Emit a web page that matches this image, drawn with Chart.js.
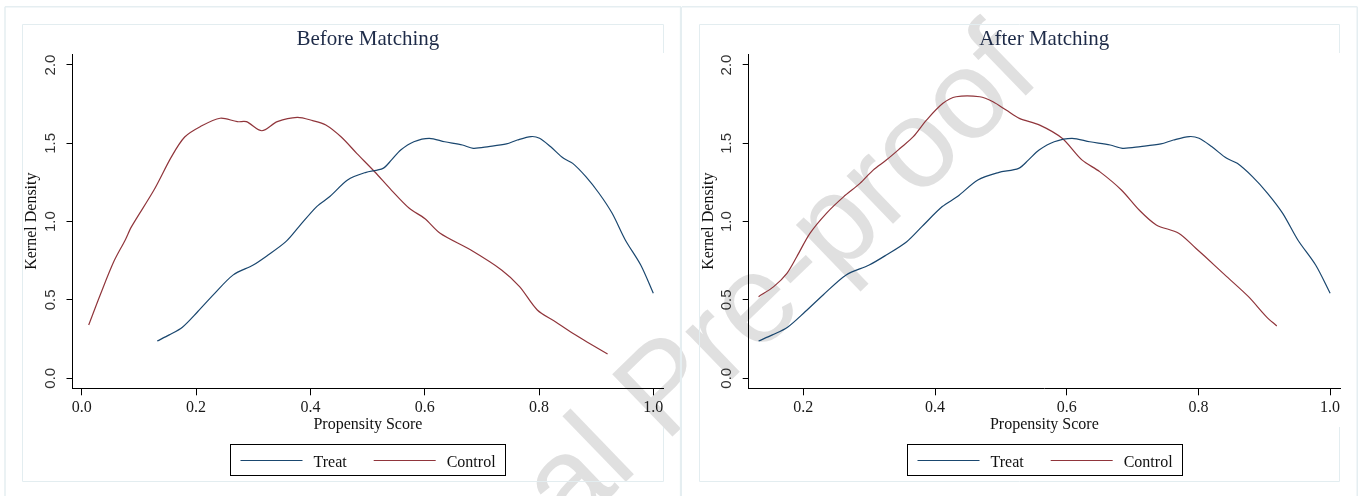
<!DOCTYPE html>
<html>
<head>
<meta charset="utf-8">
<title>Kernel Density - Before and After Matching</title>
<script src="https://cdn.jsdelivr.net/npm/chart.js@4.4.1/dist/chart.umd.min.js"></script>
<style>
	body { margin: 0; background: #fff; }
	#wrap { position: relative; width: 1365px; height: 496px; overflow: hidden; }
	#wrap canvas { position: absolute; top: 0; z-index: 1; }
	#before { left: 0; }
	#after { left: 682px; }
	.watermark {
		position: absolute; left: 269px; top: 679px; z-index: 0;
		font-family: "Liberation Sans", Arial, sans-serif; font-size: 126px; line-height: 1;
		color: #e0e0e0; white-space: nowrap;
		transform-origin: 0 0; transform: rotate(-44deg);
	}
</style>
</head>
<body>
<div id="wrap">
	<div class="watermark">Journal Pre-proof</div>
	<canvas id="before" width="682" height="496"></canvas>
	<canvas id="after" width="683" height="496"></canvas>
</div>
<script>
// Treated units are the same in both panels
const treatScore = [0.132, 0.153, 0.176, 0.203, 0.23, 0.265, 0.3, 0.326, 0.357, 0.38, 0.411, 0.434, 0.465, 0.496, 0.527, 0.542, 0.558, 0.581, 0.608, 0.635, 0.666, 0.685, 0.712, 0.743, 0.762, 0.786, 0.801, 0.82, 0.843, 0.859, 0.882, 0.905, 0.928, 0.951, 0.978, 1.0];
const treatDensity = [0.238, 0.277, 0.326, 0.426, 0.532, 0.66, 0.723, 0.787, 0.872, 0.968, 1.096, 1.16, 1.266, 1.313, 1.34, 1.394, 1.457, 1.51, 1.532, 1.51, 1.489, 1.468, 1.479, 1.496, 1.521, 1.543, 1.532, 1.479, 1.404, 1.372, 1.287, 1.181, 1.053, 0.883, 0.723, 0.543];

const beforeControlScore = [0.012, 0.033, 0.056, 0.076, 0.087, 0.126, 0.157, 0.18, 0.207, 0.242, 0.272, 0.288, 0.315, 0.342, 0.377, 0.404, 0.427, 0.454, 0.481, 0.512, 0.542, 0.573, 0.6, 0.627, 0.68, 0.735, 0.766, 0.797, 0.828, 0.859, 0.89, 0.92];
const beforeControlDensity = [0.34, 0.54, 0.745, 0.883, 0.968, 1.2, 1.415, 1.54, 1.606, 1.66, 1.638, 1.638, 1.58, 1.638, 1.666, 1.645, 1.617, 1.54, 1.436, 1.32, 1.2, 1.085, 1.02, 0.926, 0.82, 0.69, 0.585, 0.436, 0.362, 0.287, 0.219, 0.155];

const afterControlScore = [0.132, 0.155, 0.175, 0.19, 0.21, 0.235, 0.261, 0.286, 0.306, 0.326, 0.347, 0.367, 0.387, 0.412, 0.432, 0.468, 0.488, 0.508, 0.528, 0.559, 0.593, 0.623, 0.65, 0.683, 0.71, 0.736, 0.77, 0.796, 0.81, 0.843, 0.876, 0.903, 0.919];
const afterControlDensity = [0.521, 0.585, 0.67, 0.776, 0.925, 1.053, 1.158, 1.244, 1.329, 1.393, 1.468, 1.542, 1.648, 1.755, 1.797, 1.797, 1.765, 1.712, 1.659, 1.616, 1.532, 1.394, 1.319, 1.202, 1.074, 0.979, 0.926, 0.83, 0.777, 0.649, 0.521, 0.394, 0.334];

const seriesNames = ['Treat', 'Control'];
const seriesColors = ['#1a476f', '#90353b'];
const panelTitles = ['Before Matching', 'After Matching'];
const yTitle = 'Kernel Density';
const xTitle = 'Propensity Score';

const serif = '"Liberation Serif", "Times New Roman", serif';

function points(xs, ys) {
	return xs.map((x, i) => ({ x: x, y: ys[i] }));
}

// Stata-like panel: light frames, title over the plot region, boxed legend
const stataPanel = {
	id: 'stataPanel',
	beforeDraw(chart, args, opts) {
		const ctx = chart.ctx;
		const o = opts.outer;
		const n = opts.inner;
		ctx.save();
		ctx.strokeStyle = '#e5eef1';
		ctx.lineWidth = 1.5;
		ctx.beginPath();
		ctx.moveTo(o.left, o.top);
		ctx.lineTo(o.right, o.top);
		if (o.leftLine) {
			ctx.moveTo(o.left, o.top);
			ctx.lineTo(o.left, 496);
		}
		ctx.stroke();
		ctx.lineWidth = o.rightWidth;
		ctx.beginPath();
		ctx.moveTo(o.right, o.top);
		ctx.lineTo(o.right, 496);
		ctx.stroke();

		ctx.strokeStyle = '#e3edf0';
		ctx.lineWidth = 1;
		ctx.beginPath();
		ctx.moveTo(n.right, n.gapTop);
		ctx.lineTo(n.right, n.top);
		ctx.lineTo(n.left, n.top);
		ctx.lineTo(n.left, n.bottom);
		ctx.lineTo(n.right, n.bottom);
		ctx.lineTo(n.right, n.gapBottom);
		ctx.stroke();
		ctx.restore();
	},
	afterDraw(chart, args, opts) {
		const ctx = chart.ctx;
		const area = chart.chartArea;
		const cx = (area.left + area.right) / 2;
		ctx.save();

		ctx.fillStyle = '#1e2b48';
		ctx.font = '21px ' + serif;
		ctx.textAlign = 'center';
		ctx.textBaseline = 'alphabetic';
		ctx.fillText(opts.title, cx, 44.5);

		ctx.font = '16px ' + serif;
		ctx.textAlign = 'left';
		const items = chart.data.datasets.map(ds => ({
			label: ds.label,
			color: ds.borderColor,
			w: ctx.measureText(ds.label).width
		}));
		const lineLen = 62, gap = 11, itemGap = 27, pad = 10;
		let total = pad * 2 + itemGap * (items.length - 1);
		items.forEach(it => total += lineLen + gap + it.w);
		const left = Math.round(cx - total / 2) + 0.5;
		ctx.strokeStyle = '#000';
		ctx.lineWidth = 1;
		ctx.strokeRect(left, 444.5, Math.round(total), 31);

		let x = left + pad;
		items.forEach(it => {
			ctx.strokeStyle = it.color;
			ctx.lineWidth = 1.2;
			ctx.beginPath();
			ctx.moveTo(x, 460.5);
			ctx.lineTo(x + lineLen, 460.5);
			ctx.stroke();
			x += lineLen + gap;
			ctx.fillStyle = '#111';
			ctx.fillText(it.label, x, 466.5);
			x += it.w + itemGap;
		});
		ctx.restore();
	}
};

function makePanel(canvasId, title, controlScore, controlDensity, xRange, padLeft, padRight, frame) {
	const tickLabel = v => v.toFixed(1);
	return new Chart(document.getElementById(canvasId).getContext('2d'), {
		type: 'line',
		data: {
			datasets: [
				{
					label: seriesNames[0],
					data: points(treatScore, treatDensity),
					borderColor: seriesColors[0],
					borderWidth: 1.2,
					pointRadius: 0,
					tension: 0.3,
					fill: false
				},
				{
					label: seriesNames[1],
					data: points(controlScore, controlDensity),
					borderColor: seriesColors[1],
					borderWidth: 1.2,
					pointRadius: 0,
					tension: 0.3,
					fill: false
				}
			]
		},
		options: {
			responsive: false,
			animation: false,
			devicePixelRatio: 1,
			events: [],
			layout: {
				padding: { left: padLeft, right: padRight, top: 54, bottom: 61.7 }
			},
			scales: {
				x: {
					type: 'linear',
					min: xRange[0],
					max: xRange[1],
					afterFit(scale) { scale.height = 46; },
					border: { display: true, color: '#000', width: 1 },
					grid: { drawOnChartArea: false, drawTicks: true, tickLength: 7, color: '#000' },
					ticks: {
						stepSize: 0.2,
						includeBounds: false,
						maxRotation: 0,
						padding: 3,
						color: '#1a1a1a',
						font: { family: serif, size: 16 },
						callback: tickLabel
					},
					title: {
						display: true,
						text: xTitle,
						color: '#111',
						font: { family: serif, size: 16 },
						padding: { top: 0, bottom: 0 }
					}
				},
				y: {
					type: 'linear',
					min: -0.064,
					max: 2.07,
					afterFit(scale) { scale.width = 50; },
					border: { display: true, color: '#000', width: 1 },
					grid: { drawOnChartArea: false, drawTicks: true, tickLength: 6, color: '#000' },
					ticks: {
						stepSize: 0.5,
						includeBounds: false,
						minRotation: 90,
						maxRotation: 90,
						crossAlign: 'center',
						padding: 5,
						color: '#333',
						font: { family: '"Liberation Sans", Arial, sans-serif', size: 15 },
						callback: tickLabel
					},
					title: {
						display: true,
						text: yTitle,
						color: '#111',
						font: { family: serif, size: 16 },
						padding: { top: 0, bottom: 0 }
					}
				}
			},
			plugins: {
				legend: { display: false },
				tooltip: { enabled: false },
				stataPanel: Object.assign({ title: title }, frame)
			}
		},
		plugins: [stataPanel]
	});
}

makePanel('before', panelTitles[0], beforeControlScore, beforeControlDensity, [-0.0163, 1.0175], 22.5, 18.7, {
	outer: { left: 5, right: 681, top: 6.75, leftLine: true, rightWidth: 2.3 },
	inner: { left: 22.5, right: 663.5, top: 24.5, bottom: 481.5, gapTop: 53, gapBottom: 427 }
});

makePanel('after', panelTitles[1], afterControlScore, afterControlDensity, [0.117, 1.015], 16.7, 25, {
	outer: { left: 0, right: 675.25, top: 6.75, leftLine: false, rightWidth: 1.5 },
	inner: { left: 17.5, right: 657.5, top: 24.5, bottom: 481.5, gapTop: 53, gapBottom: 427 }
});
</script>
</body>
</html>
